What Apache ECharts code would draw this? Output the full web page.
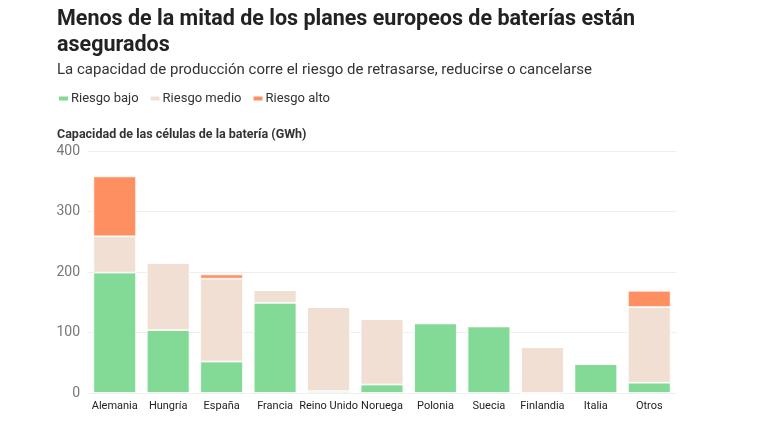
<!DOCTYPE html>
<html>
<head>
<meta charset="utf-8">
<script src="https://cdn.jsdelivr.net/npm/echarts@6/dist/echarts.min.js"></script>
<style>
html,body{margin:0;padding:0;background:#fff;}
#chart{width:760px;height:427px;}
</style>
</head>
<body>
<div id="chart"></div>
<script>
const categories = ["Alemania","Hungría","España","Francia","Reino Unido","Noruega","Polonia","Suecia","Finlandia","Italia","Otros"];
const riesgoBajo  = [199,104,52,149,3,14,115,110,0,48,17];
const riesgoMedio = [60,111,137,21,139,108,0,0,76,0,125];
const riesgoAlto  = [99,0,7,0,0,0,0,0,0,0,27];
const yTicks = [0,100,200,300,400];

const FONT = 'Roboto, "Noto Sans", sans-serif';
const chart = echarts.init(document.getElementById('chart'), null, {renderer:'canvas'});
const mk = (name, data, color) => ({
  name, type:'bar', stack:'total', data, barCategoryGap:'20%',
  itemStyle:{color, borderColor:'#fff', borderWidth:0.8},
  emphasis:{disabled:true}
});
chart.setOption({
  animation:false,
  textStyle:{fontFamily:FONT},
  title:[
    {text:'Menos de la mitad de los planes europeos de baterías están\nasegurados', left:52, top:2,
     textStyle:{fontFamily:FONT, fontSize:21.5, fontWeight:'bold', color:'#222', lineHeight:26}},
    {text:'La capacidad de producción corre el riesgo de retrasarse, reducirse o cancelarse', left:52, top:58,
     textStyle:{fontFamily:FONT, fontSize:15, fontWeight:'normal', color:'#333'}},
    {text:'Capacidad de las células de la batería (GWh)', left:52, top:123,
     textStyle:{fontFamily:FONT, fontSize:12.5, fontWeight:'bold', color:'#333'}}
  ],
  legend:{
    left:52, top:87, itemWidth:11, itemHeight:6, itemGap:10,
    icon:'roundRect',
    textStyle:{fontFamily:FONT, fontSize:13, color:'#333', padding:[0,0,0,-3]},
    data:['Riesgo bajo','Riesgo medio','Riesgo alto'],
    selectedMode:false
  },
  grid:{left:88, right:84, top:151, bottom:34, containLabel:false},
  xAxis:{
    type:'category', data:categories,
    axisLine:{show:false}, axisTick:{show:false},
    axisLabel:{fontFamily:FONT, fontSize:11, color:'#222', margin:8, interval:0}
  },
  yAxis:{
    type:'value', min:yTicks[0], max:yTicks[yTicks.length-1], interval:100,
    axisLabel:{fontFamily:FONT, fontSize:14, color:'#777', margin:8},
    splitLine:{lineStyle:{color:'#efefef', width:1}},
    axisLine:{show:false}, axisTick:{show:false}
  },
  series:[
    mk('Riesgo bajo', riesgoBajo, '#83d996'),
    mk('Riesgo medio', riesgoMedio, '#f0dfd2'),
    mk('Riesgo alto', riesgoAlto, '#fe8f60')
  ]
});
</script>
</body>
</html>
